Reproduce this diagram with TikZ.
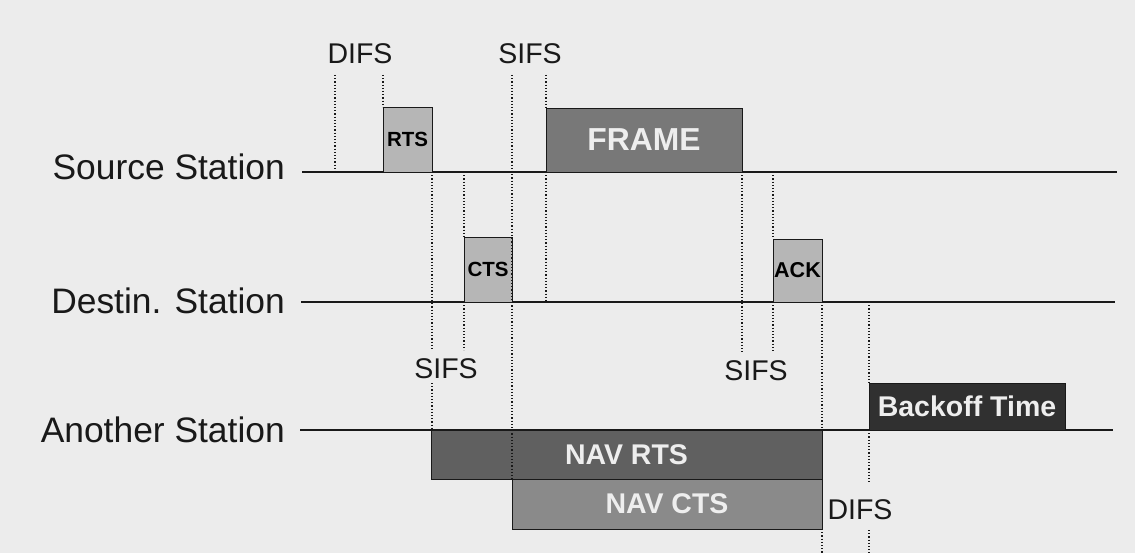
\documentclass[tikz,border=0pt]{standalone}
\usepackage{fontspec}
\setmainfont{Liberation Sans}
\definecolor{bgcol}{RGB}{236,236,236}
\definecolor{ltbox}{RGB}{182,182,182}
\definecolor{framecol}{RGB}{120,120,120}
\definecolor{navrtscol}{RGB}{96,96,96}
\definecolor{navctscol}{RGB}{138,138,138}
\definecolor{backcol}{RGB}{48,48,48}
\definecolor{wtext}{RGB}{238,238,238}
\definecolor{inkcol}{RGB}{25,25,25}
\newcommand{\fsz}[1]{\fontsize{#1}{#1}\selectfont}
\tikzset{
  timeline/.style={draw=inkcol, line width=1.3pt},
  guide/.style={draw=inkcol, line width=1.3pt, dash pattern=on 1.2pt off 2pt},
  slot/.style={draw=inkcol, line width=0.9pt, inner sep=0pt, outer sep=0pt, font=\bfseries},
  smallslot/.style={slot, fill=ltbox, text=black},
  darkslot/.style={slot, text=wtext},
  stationlbl/.style={anchor=base east, inner sep=0pt, text=inkcol, font=\fsz{35.4}},
  ifslbl/.style={anchor=base, inner sep=0pt, text=inkcol, font=\fsz{28.5}}
}
\begin{document}
\begin{tikzpicture}[x=1pt, y=-1pt]
\fill[bgcol] (0,0) rectangle (1135,553);
\useasboundingbox (0,0) rectangle (1135,553);

% station labels
\node[stationlbl] (lsrc) at (285,180) {Source Station};
\node[stationlbl] (ldst) at (285,313) {Destin. Station};
\node[stationlbl] (lano) at (285,442) {Another Station};

% timelines
\coordinate (s0) at (302,172); \coordinate (s1) at (1117,172);
\coordinate (d0) at (301,302); \coordinate (d1) at (1115,302);
\coordinate (a0) at (300,430); \coordinate (a1) at (1113,430);
\draw[timeline] (s0) -- (s1);
\draw[timeline] (d0) -- (d1);
\draw[timeline] (a0) -- (a1);

% interval labels
\node[ifslbl] (difs1) at (360,64) {DIFS};
\node[ifslbl] (sifs1) at (530,64) {SIFS};
\node[ifslbl] (sifs2) at (446,378) {SIFS};
\node[ifslbl] (sifs3) at (756,380) {SIFS};
\node[ifslbl] (difs2) at (860,519) {DIFS};

% frames
\node[smallslot, minimum width=49, minimum height=65, anchor=south west, font=\bfseries\fsz{20.5}] (rts) at (383,172) {RTS};
\node[darkslot, fill=framecol, minimum width=196, minimum height=64, anchor=south west, font=\bfseries\fsz{31.8}] (frame) at (546,172) {FRAME};
\node[smallslot, minimum width=48, minimum height=65, anchor=south west, font=\bfseries\fsz{20.5}] (cts) at (464,302) {CTS};
\node[smallslot, minimum width=49, minimum height=63, anchor=south west, font=\bfseries\fsz{21.5}] (ack) at (773,302) {ACK};
\node[darkslot, fill=navrtscol, minimum width=391, minimum height=49, anchor=north west, font=\bfseries\fsz{28.5}] (navrts) at (431,430) {NAV RTS};
\node[darkslot, fill=navctscol, minimum width=310, minimum height=50, anchor=north west, font=\bfseries\fsz{28.5}] (navcts) at (512,479) {NAV CTS};
\node[darkslot, fill=backcol, minimum width=196, minimum height=47, anchor=south west, font=\bfseries\fsz{28.5}] (backoff) at (869,430) {Backoff Time};

% guide end points
\coordinate (g1t) at (335,75);
\coordinate (g2t) at (383,75);
\coordinate (g5t) at (512,75);
\coordinate (g6t) at (546,75);
\coordinate (gapA) at (0,350);   % above lower SIFS labels
\coordinate (gapB) at (0,383);
\coordinate (gapC) at (0,352);
\coordinate (gapD) at (0,482);   % above lower DIFS label
\coordinate (gapE) at (0,530);
\coordinate (bot) at (0,553);

% dotted guide lines
\draw[guide] (g1t) -- (g1t |- s0);
\draw[guide] (g2t) -- (rts.north west);
\draw[guide] (rts.south east) -- (rts.south east |- gapA);
\draw[guide] (rts.south east |- gapB) -- (rts.south east |- a0);
\draw[guide] (cts.west |- s0) -- (cts.north west);
\draw[guide] (cts.south west) -- (cts.south west |- gapA);
\draw[guide] (g5t) -- (navcts.north west);
\draw[guide] (g6t) -- (frame.north west);
\draw[guide] (frame.south west) -- (frame.south west |- d0);
\draw[guide] (frame.south east) -- (frame.south east |- gapC);
\draw[guide] (ack.west |- s0) -- (ack.north west);
\draw[guide] (ack.south west) -- (ack.south west |- gapC);
\draw[guide] (ack.south east) -- (navrts.north east);
\draw[guide] (navcts.south east) -- (navcts.south east |- bot);
\draw[guide] (backoff.west |- d0) -- (backoff.north west);
\draw[guide] (backoff.south west) -- (backoff.south west |- gapD);
\draw[guide] (backoff.south west |- gapE) -- (backoff.south west |- bot);
\end{tikzpicture}
\end{document}
